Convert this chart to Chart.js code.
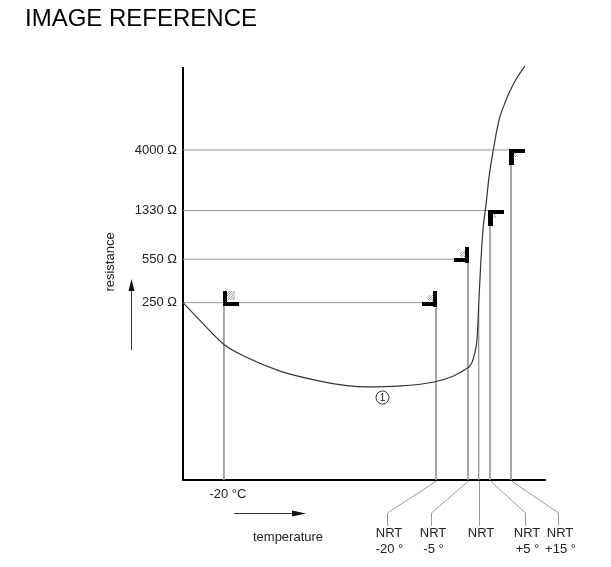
<!DOCTYPE html>
<html>
<head>
<meta charset="utf-8">
<script src="https://cdn.jsdelivr.net/npm/chart.js@4.4.1/dist/chart.umd.min.js"></script>
<style>
  html,body{margin:0;padding:0;background:#fff}
  #wrap{position:relative;width:611px;height:567px}
</style>
</head>
<body>
<div id="wrap"><canvas id="chart"></canvas></div>
<script>
const TITLE = 'IMAGE REFERENCE';
const Y_TITLE = 'resistance';
const X_TITLE = 'temperature';

// axe résistance (log) et axe température (°, 0 = NRT)
const R_MIN = 10, R_MAX = 17700;
const T_MIN = -140.8, T_MAX = 31.6;

// seuils de résistance et point de commutation associé
const LEVELS = [250, 550, 1330, 4000];
const LEVEL_LABELS = ['250 Ω', '550 Ω', '1330 Ω', '4000 Ω'];
const LEVEL_T = [-20.3, -5.1, 5.4, 15.4];

const COLD_T = -121.3;
const COLD_LABEL = '-20 °C';

// repères NRT sous l'axe
const NRT_T = [-20.3, -5.1, 0, 5.4, 15.4];
const NRT_LINE1 = ['NRT', 'NRT', 'NRT', 'NRT', 'NRT'];
const NRT_LINE2 = ['-20 °', '-5 °', '', '+5 °', '+15 °'];
const NRT_TOP_R = 220;

// courbe ① résistance = f(température)
const CURVE_T = [-140.8, -131.3, -121.3, -110.3, -94.6, -78.9, -62.7, -53.2, -38.9, -21.8,
                 -12.2, -6.5, -3.3, -1.8, -0.8, -0.2, 0.3, 1.1, 2.2, 3.5,
                 4.9, 7.0, 8.7, 10.1, 12.5, 14.9, 18.2, 22.0];
const CURVE_R = [250, 171, 117, 92.3, 72.2, 61.9, 55.5, 54.2, 54.9, 59.0,
                 65.8, 74.2, 83.8, 101, 128, 194, 300, 545, 991, 1477,
                 2408, 4000, 5748, 7274, 9376, 11650, 14750, 18330];
const CURVE_TAG = '1';
const TAG_T = -46.2, TAG_R = 44.9;

// ══════════════ MISE EN PAGE ══════════════
const FONT = 'Liberation Sans, Arial, sans-serif';
const TXT = '#222';
const GUIDE = '#9a9a9a';
const NRT_DX = [-49, -37, 0, 35, 47];

function hatch(ctx, x, y, w, h){
  ctx.save();
  ctx.beginPath(); ctx.rect(x, y, w, h); ctx.clip();
  ctx.strokeStyle = '#777'; ctx.lineWidth = 0.8;
  ctx.beginPath();
  for(let k=-h; k<w; k+=2.5){ ctx.moveTo(x+k, y+h); ctx.lineTo(x+k+h, y); }
  ctx.stroke();
  ctx.restore();
}

function drawMark(ctx, x, y, kind){
  ctx.fillStyle = '#000';
  if(kind==='L'){
    ctx.fillRect(x-1, y-12, 4, 15);
    ctx.fillRect(x-1, y-1, 16, 4);
    hatch(ctx, x+3, y-12, 8, 9);
  } else if(kind==='J'){
    ctx.fillRect(x-3, y-12, 4, 16);
    ctx.fillRect(x-14, y-1, 15, 4);
    hatch(ctx, x-8, y-8, 5, 6);
  } else {
    ctx.fillRect(x-2, y-1, 16, 4);
    ctx.fillRect(x-2, y-1, 5, 16);
    hatch(ctx, x+3, y+3, 3, 4);
  }
}

const overlay = {
  id: 'overlay',
  afterDatasetsDraw(chart){
    const {ctx, chartArea: a, scales: {x, y}} = chart;
    const px = t => Math.round(x.getPixelForValue(t));
    const py = r => Math.round(y.getPixelForValue(r));
    ctx.save();

    // titre
    ctx.fillStyle = '#000';
    ctx.font = '24px ' + FONT;
    ctx.textAlign = 'left'; ctx.textBaseline = 'alphabetic';
    ctx.fillText(TITLE, 25, 26);

    // repères de commutation
    drawMark(ctx, px(COLD_T), py(LEVELS[0]), 'L');
    LEVELS.forEach((r,i)=> drawMark(ctx, px(LEVEL_T[i]), py(r), i<2 ? 'J' : 'F'));

    // ①
    const cx = px(TAG_T), cy = py(TAG_R);
    ctx.strokeStyle = '#333'; ctx.lineWidth = 1;
    ctx.beginPath(); ctx.arc(cx+0.5, cy+0.5, 6.5, 0, Math.PI*2); ctx.stroke();
    ctx.fillStyle = '#222'; ctx.font = '10px ' + FONT;
    ctx.textAlign = 'center'; ctx.textBaseline = 'middle';
    ctx.fillText(CURVE_TAG, cx+0.5, cy+1);

    // titre axe Y + flèche
    ctx.save();
    ctx.translate(a.left-73, a.top+194);
    ctx.rotate(-Math.PI/2);
    ctx.font = '13px ' + FONT; ctx.fillStyle = TXT;
    ctx.fillText(Y_TITLE, 0, 0);
    ctx.restore();
    const ax = a.left-52;
    ctx.strokeStyle = '#333'; ctx.fillStyle = '#111'; ctx.lineWidth = 1;
    ctx.beginPath(); ctx.moveTo(ax+0.5, a.bottom-130); ctx.lineTo(ax+0.5, a.bottom-192); ctx.stroke();
    ctx.beginPath(); ctx.moveTo(ax+0.5, a.bottom-201); ctx.lineTo(ax-2.5, a.bottom-189); ctx.lineTo(ax+3.5, a.bottom-189); ctx.closePath(); ctx.fill();

    // titre axe X + flèche
    const ay = a.bottom+33;
    ctx.beginPath(); ctx.moveTo(a.left+51, ay+0.5); ctx.lineTo(a.left+113, ay+0.5); ctx.stroke();
    ctx.beginPath(); ctx.moveTo(a.left+123, ay+0.5); ctx.lineTo(a.left+109, ay-2.5); ctx.lineTo(a.left+109, ay+3.5); ctx.closePath(); ctx.fill();
    ctx.font = '13px ' + FONT; ctx.fillStyle = TXT;
    ctx.textAlign = 'center'; ctx.textBaseline = 'middle';
    ctx.fillText(X_TITLE, a.left+105, a.bottom+57);

    // renvois NRT
    ctx.strokeStyle = GUIDE; ctx.lineWidth = 1;
    NRT_T.forEach((t,i)=>{
      const x0 = px(t)+0.5, x1 = x0 + NRT_DX[i];
      ctx.beginPath();
      ctx.moveTo(x0, a.bottom+1);
      ctx.lineTo(x1, a.bottom+33);
      ctx.lineTo(x1, a.bottom+46);
      ctx.stroke();
      ctx.fillText(NRT_LINE1[i], x1+1.5, a.bottom+53);
      if(NRT_LINE2[i]) ctx.fillText(NRT_LINE2[i], x1+2, a.bottom+69);
    });

    ctx.restore();
  }
};

// ══════════════ JEUX DE DONNÉES ══════════════
const curve = CURVE_T.map((t,i)=>({x:t, y:CURVE_R[i]}));
const guides = LEVELS.map((r,i)=>[{x:T_MIN, y:r}, {x:LEVEL_T[i], y:r}, {x:LEVEL_T[i], y:R_MIN}]);
guides.push([{x:COLD_T, y:LEVELS[0]}, {x:COLD_T, y:R_MIN}]);
guides.push([{x:NRT_T[2], y:NRT_TOP_R}, {x:NRT_T[2], y:R_MIN}]);

const datasets = [{
  data: curve, showLine: true, borderColor: '#333', borderWidth: 1.2,
  cubicInterpolationMode: 'monotone', pointRadius: 0, clip: false
}].concat(guides.map(g=>({
  data: g, showLine: true, borderColor: GUIDE, borderWidth: 1,
  tension: 0, pointRadius: 0
})));

new Chart(document.getElementById('chart'), {
  type: 'scatter',
  data: { datasets },
  options: {
    responsive: true,
    maintainAspectRatio: false,
    animation: false,
    events: [],
    layout: { padding: { top: 68, right: 66, left: 0, bottom: 0 } },
    plugins: { legend: { display: false }, tooltip: { enabled: false } },
    scales: {
      x: {
        type: 'linear', min: T_MIN, max: T_MAX,
        grid: { display: false, drawTicks: false },
        border: { display: true, color: '#000', width: 2 },
        afterBuildTicks: s => { s.ticks = [{ value: COLD_T }]; },
        afterFit: s => { s.height = 87; },
        ticks: {
          callback: () => COLD_LABEL, color: TXT, padding: 7, labelOffset: 4,
          maxRotation: 0, autoSkip: false, font: { family: FONT, size: 13 }
        }
      },
      y: {
        type: 'logarithmic', min: R_MIN, max: R_MAX,
        grid: { display: false, drawTicks: false },
        border: { display: true, color: '#000', width: 2 },
        afterBuildTicks: s => { s.ticks = LEVELS.map(v=>({ value: v })); },
        afterFit: s => { s.width = 183; },
        ticks: {
          callback: (v,i) => LEVEL_LABELS[i], color: TXT, padding: 6,
          autoSkip: false, font: { family: FONT, size: 13 }
        }
      }
    }
  },
  plugins: [overlay]
});
</script>
</body>
</html>
